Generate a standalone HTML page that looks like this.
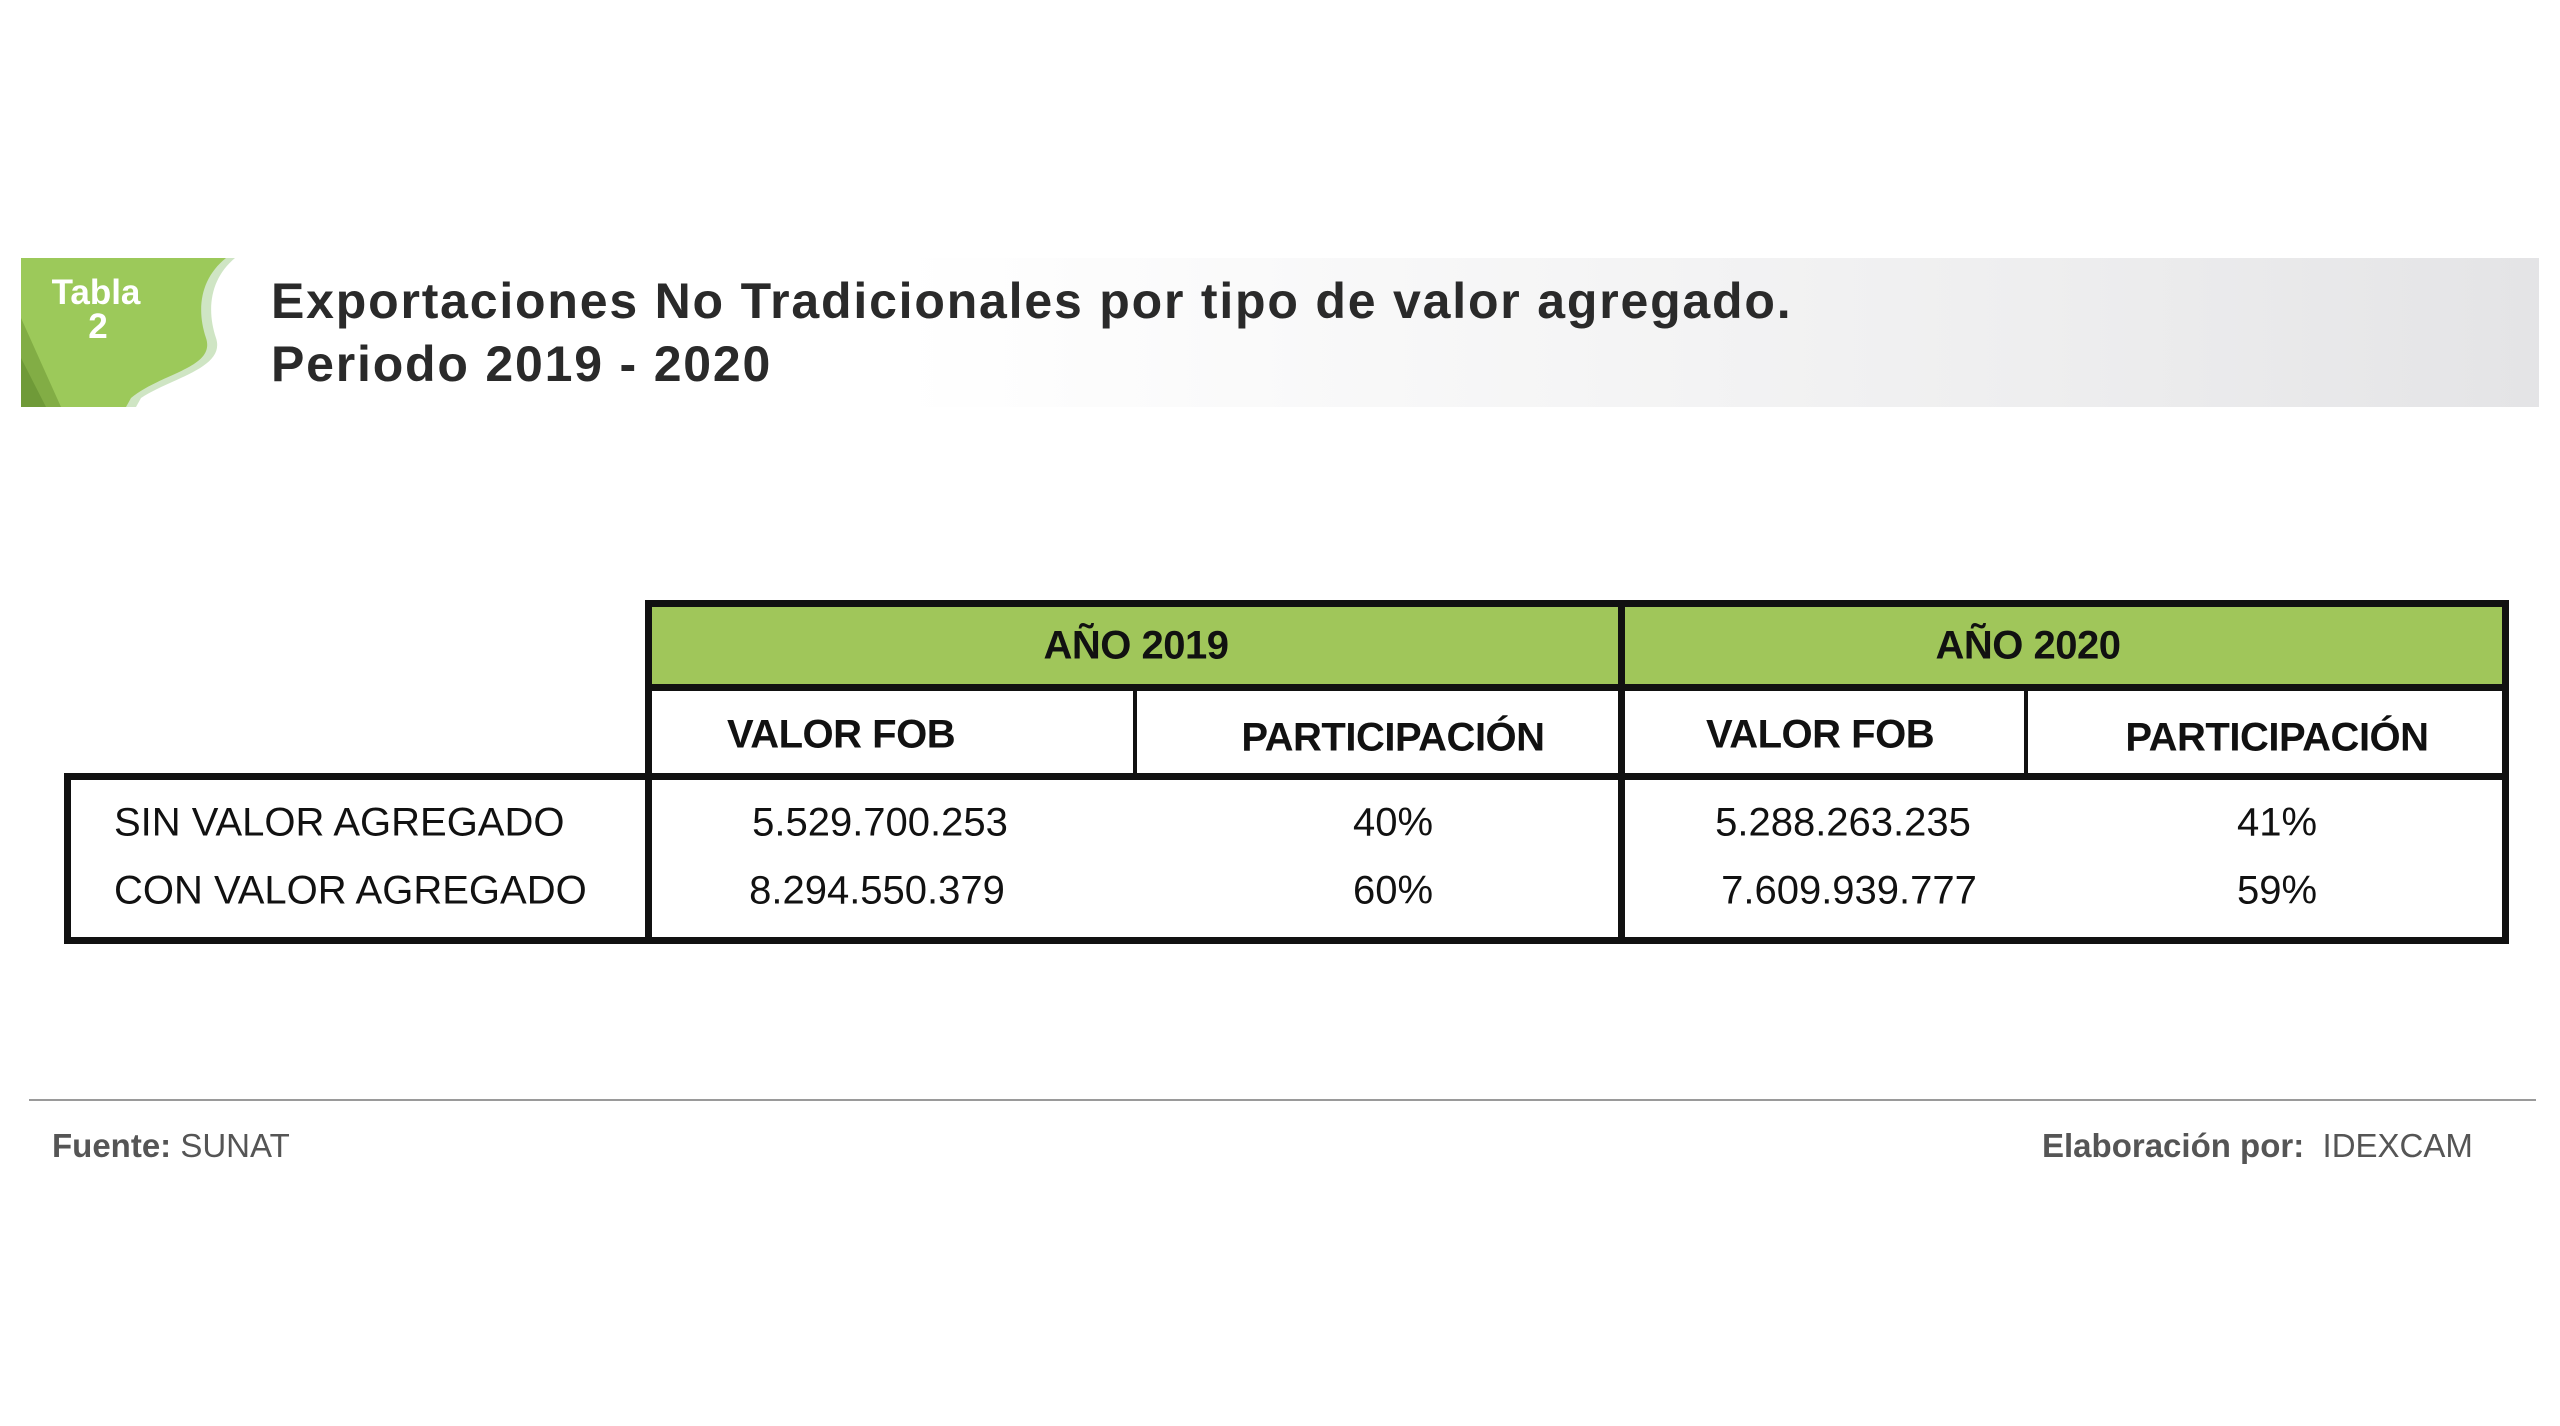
<!DOCTYPE html>
<html><head><meta charset="utf-8"><style>
body{margin:0;width:2560px;height:1426px;background:#fff;position:relative;overflow:hidden;font-family:"Liberation Sans",sans-serif;color:#222}
.a{position:absolute}
.c{position:absolute;transform:translate(-50%,-50%);white-space:nowrap}
.l{position:absolute;transform:translateY(-50%);white-space:nowrap}
.b{background:#111}
.h{font-weight:bold;font-size:40px;color:#111;letter-spacing:-0.5px}
.t{font-size:40px;color:#111}
</style></head><body>
<div class="a" style="left:21px;top:258px;width:2518px;height:149px;background:linear-gradient(90deg,#fff 0%,#fff 35%,#eeeeef 80%,#e4e4e6 100%)"></div>
<svg class="a" style="left:21px;top:258px" width="220" height="149" viewBox="0 0 220 149">
<path d="M0 0H214C190 20 185 50 195 80C205 110 150 120 120 140L115 149H0Z" fill="#cfe5c4"/>
<path d="M0 0H205C180 20 175 50 185 80C195 110 140 115 110 140L105 149H0Z" fill="#9cc95a"/>
<path d="M0 60L40 149H0Z" fill="#82ad45"/>
<path d="M0 100L25 149H0Z" fill="#6f9a38"/>
<text x="75" y="46" font-family="Liberation Sans" font-weight="bold" font-size="35" fill="#fff" text-anchor="middle">Tabla</text>
<text x="77" y="80" font-family="Liberation Sans" font-weight="bold" font-size="35" fill="#fff" text-anchor="middle">2</text>
</svg>
<div class="a" style="left:271px;top:270px;font-weight:bold;font-size:50px;line-height:63px;color:#2a2a2a;letter-spacing:1.8px">Exportaciones No Tradicionales por tipo de valor agregado.<br>Periodo 2019 - 2020</div>

<div class="a" style="left:648px;top:602px;width:1858px;height:85px;background:#a0c65a"></div>
<div class="a b" style="left:645px;top:600px;width:1864px;height:7px"></div>
<div class="a b" style="left:645px;top:684px;width:1864px;height:7px"></div>
<div class="a b" style="left:64px;top:773px;width:2445px;height:7px"></div>
<div class="a b" style="left:64px;top:937px;width:2445px;height:7px"></div>
<div class="a b" style="left:645px;top:600px;width:7px;height:344px"></div>
<div class="a b" style="left:2502px;top:600px;width:7px;height:344px"></div>
<div class="a b" style="left:1618px;top:600px;width:7px;height:344px"></div>
<div class="a b" style="left:64px;top:773px;width:7px;height:171px"></div>
<div class="a b" style="left:1133px;top:687px;width:4px;height:88px"></div>
<div class="a b" style="left:2024px;top:687px;width:4px;height:88px"></div>

<div class="c h" style="left:1136px;top:646px">AÑO 2019</div>
<div class="c h" style="left:2028px;top:646px">AÑO 2020</div>
<div class="l h" style="left:727px;top:735px">VALOR FOB</div>
<div class="c h" style="left:1393px;top:738px">PARTICIPACIÓN</div>
<div class="l h" style="left:1706px;top:735px">VALOR FOB</div>
<div class="c h" style="left:2277px;top:738px">PARTICIPACIÓN</div>

<div class="l t" style="left:114px;top:823px">SIN VALOR AGREGADO</div>
<div class="l t" style="left:114px;top:891px">CON VALOR AGREGADO</div>
<div class="c t" style="left:880px;top:823px">5.529.700.253</div>
<div class="c t" style="left:877px;top:891px">8.294.550.379</div>
<div class="c t" style="left:1393px;top:823px">40%</div>
<div class="c t" style="left:1393px;top:891px">60%</div>
<div class="c t" style="left:1843px;top:823px">5.288.263.235</div>
<div class="c t" style="left:1849px;top:891px">7.609.939.777</div>
<div class="c t" style="left:2277px;top:823px">41%</div>
<div class="c t" style="left:2277px;top:891px">59%</div>

<div class="a" style="left:29px;top:1099px;width:2507px;height:2px;background:#9a9a9a"></div>
<div class="l" style="left:52px;top:1146px;font-size:33px;color:#555"><b>Fuente:</b> SUNAT</div>
<div class="l" style="left:2042px;top:1146px;font-size:33px;color:#555"><b>Elaboración por:</b>&nbsp; IDEXCAM</div>
</body></html>
